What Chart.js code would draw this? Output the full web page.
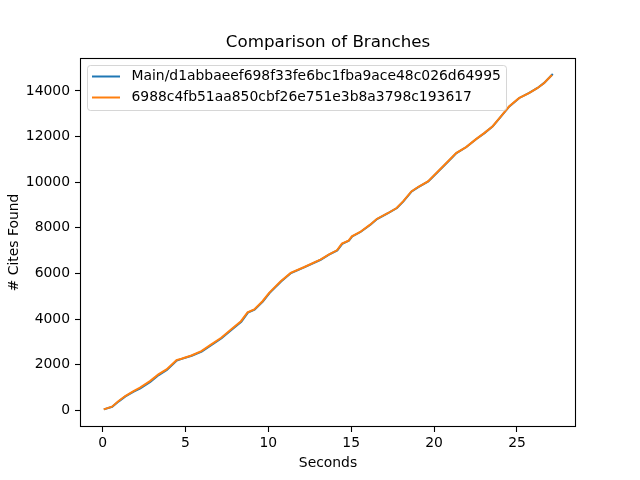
<!DOCTYPE html>
<html>
<head>
<meta charset="utf-8">
<script src="https://cdn.jsdelivr.net/npm/chart.js@4"></script>
<style>
html,body{margin:0;padding:0;background:#fff;}
#wrap{width:640px;height:480px;}
</style>
</head>
<body>
<div id="wrap"><canvas id="c" width="640" height="480"></canvas></div>
<script>
const titleText = "Comparison of Branches";
const xLabel = "Seconds";
const yLabel = "# Cites Found";
const seriesNames = ["Main/d1abbaeef698f33fe6bc1fba9ace48c026d64995", "6988c4fb51aa850cbf26e751e3b8a3798c193617"];
const xTicks = [0, 5, 10, 15, 20, 25];
const yTicks = [0, 2000, 4000, 6000, 8000, 10000, 12000, 14000];

const mainSeconds = [0.08,0.58,0.98,1.38,1.88,2.28,2.88,3.39,3.88,4.48,4.78,5.38,5.98,6.58,7.18,7.77,8.37,8.77,9.17,9.67,10.07,10.77,11.37,12.16,13.16,13.66,14.16,14.46,14.86,15.06,15.56,16.16,16.56,17.25,17.76,18.15,18.65,19.05,19.65,20.25,20.85,21.35,21.95,22.55,23.04,23.54,24.04,24.54,25.14,25.74,26.24,26.64,27.16];
const mainCites = [42,155,395,610,820,965,1250,1545,1770,2180,2255,2395,2575,2865,3160,3520,3885,4285,4408,4770,5138,5650,6015,6265,6600,6820,7010,7300,7432,7620,7815,8135,8385,8650,8868,9155,9592,9785,10030,10470,10905,11275,11540,11890,12150,12445,12880,13320,13690,13910,14130,14350,14740];

const branchSeconds = [0.07,0.57,0.97,1.37,1.87,2.26,2.86,3.37,3.86,4.46,4.76,5.36,5.96,6.56,7.16,7.75,8.35,8.75,9.15,9.65,10.05,10.75,11.35,12.14,13.14,13.64,14.14,14.44,14.84,15.04,15.54,16.14,16.54,17.23,17.74,18.13,18.63,19.03,19.63,20.23,20.83,21.33,21.93,22.53,23.02,23.52,24.02,24.52,25.12,25.72,26.22,26.62,27.11];
const branchCites = [44,162,407,626,845,993,1282,1575,1794,2200,2262,2406,2594,2888,3181,3544,3907,4301,4419,4782,5149,5657,6024,6270,6606,6825,7013,7306,7437,7626,7818,8138,8387,8649,8868,9157,9594,9787,10032,10470,10907,11274,11536,11886,12150,12440,12876,13313,13681,13900,14119,14338,14700];

const colors = ["#1f77b4", "#ff7f0e"];
const FONT = "'DejaVu Sans', sans-serif";

function pts(xs, ys){ return xs.map((x,i)=>({x:x, y:ys[i]})); }

const framePlugin = {
  id: 'frame',
  afterDraw(chart){
    const ctx = chart.ctx, a = chart.chartArea;
    ctx.save();
    ctx.strokeStyle = '#000';
    ctx.lineWidth = 1.1;
    ctx.strokeRect(Math.round(a.left)+0.5, Math.round(a.top)+0.5, Math.round(a.right-a.left)-1, Math.round(a.bottom-a.top)-1);
    // legend
    const bx = 87.5, by = 65.5, bw = 419, bh = 45, r = 3;
    ctx.beginPath();
    ctx.moveTo(bx+r, by);
    ctx.lineTo(bx+bw-r, by); ctx.quadraticCurveTo(bx+bw, by, bx+bw, by+r);
    ctx.lineTo(bx+bw, by+bh-r); ctx.quadraticCurveTo(bx+bw, by+bh, bx+bw-r, by+bh);
    ctx.lineTo(bx+r, by+bh); ctx.quadraticCurveTo(bx, by+bh, bx, by+bh-r);
    ctx.lineTo(bx, by+r); ctx.quadraticCurveTo(bx, by, bx+r, by);
    ctx.closePath();
    ctx.fillStyle = 'rgba(255,255,255,0.8)';
    ctx.fill();
    ctx.strokeStyle = 'rgba(204,204,204,0.8)';
    ctx.lineWidth = 1;
    ctx.stroke();
    const items = [chart.data.datasets[0], chart.data.datasets[1]];
    items.forEach((ds, i) => {
      const y = 76.5 + i*21;
      ctx.beginPath();
      ctx.moveTo(92, y); ctx.lineTo(120, y);
      ctx.strokeStyle = ds.borderColor;
      ctx.lineWidth = 2;
      ctx.stroke();
      ctx.fillStyle = '#000';
      ctx.font = "13.9px " + FONT;
      ctx.textBaseline = 'middle';
      ctx.textAlign = 'left';
      ctx.fillText(ds.label, 131.5, y);
    });
    ctx.restore();
  }
};

new Chart(document.getElementById('c'), {
  type: 'line',
  data: {
    datasets: [
      {label: seriesNames[0], data: pts(mainSeconds, mainCites), borderColor: colors[0], backgroundColor: colors[0], borderWidth: 2, pointRadius: 0, tension: 0, fill: false, order: 2},
      {label: seriesNames[1], data: pts(branchSeconds, branchCites), borderColor: colors[1], backgroundColor: colors[1], borderWidth: 2, pointRadius: 0, tension: 0, fill: false, order: 1}
    ]
  },
  options: {
    responsive: false,
    animation: false,
    layout: {padding: {left: 0, right: 64, top: 0, bottom: 0}},
    plugins: {
      legend: {display: false},
      tooltip: {enabled: false},
      title: {display: true, text: titleText, fullSize: false, color: '#000', font: {family: FONT, size: 16.7, weight: 'normal'}, padding: {top: 33, bottom: 5}}
    },
    scales: {
      x: {
        type: 'linear', min: -1.36, max: 28.56,
        afterBuildTicks(s){ s.ticks = xTicks.map(v => ({value: v})); },
        afterFit(s){ s.height = 53; },
        grid: {drawOnChartArea: false, drawTicks: true, tickLength: 5, color: '#000', tickWidth: 1.1},
        border: {display: false},
        ticks: {color: '#000', font: {family: FONT, size: 13.9}, padding: 3, maxRotation: 0, autoSkip: false, callback: v => String(v)},
        title: {display: true, text: xLabel, color: '#000', font: {family: FONT, size: 13.9}, padding: {top: 2, bottom: 8}}
      },
      y: {
        type: 'linear', min: -730, max: 15440,
        afterBuildTicks(s){ s.ticks = yTicks.map(v => ({value: v})); },
        afterFit(s){ s.width = 80; },
        grid: {drawOnChartArea: false, drawTicks: true, tickLength: 5, color: '#000', tickWidth: 1.1},
        border: {display: false},
        ticks: {color: '#000', font: {family: FONT, size: 13.9}, padding: 5, autoSkip: false, callback: v => String(v)},
        title: {display: true, text: yLabel, color: '#000', font: {family: FONT, size: 13.9}, padding: {top: 6, bottom: 4}}
      }
    }
  },
  plugins: [framePlugin]
});
</script>
</body>
</html>
